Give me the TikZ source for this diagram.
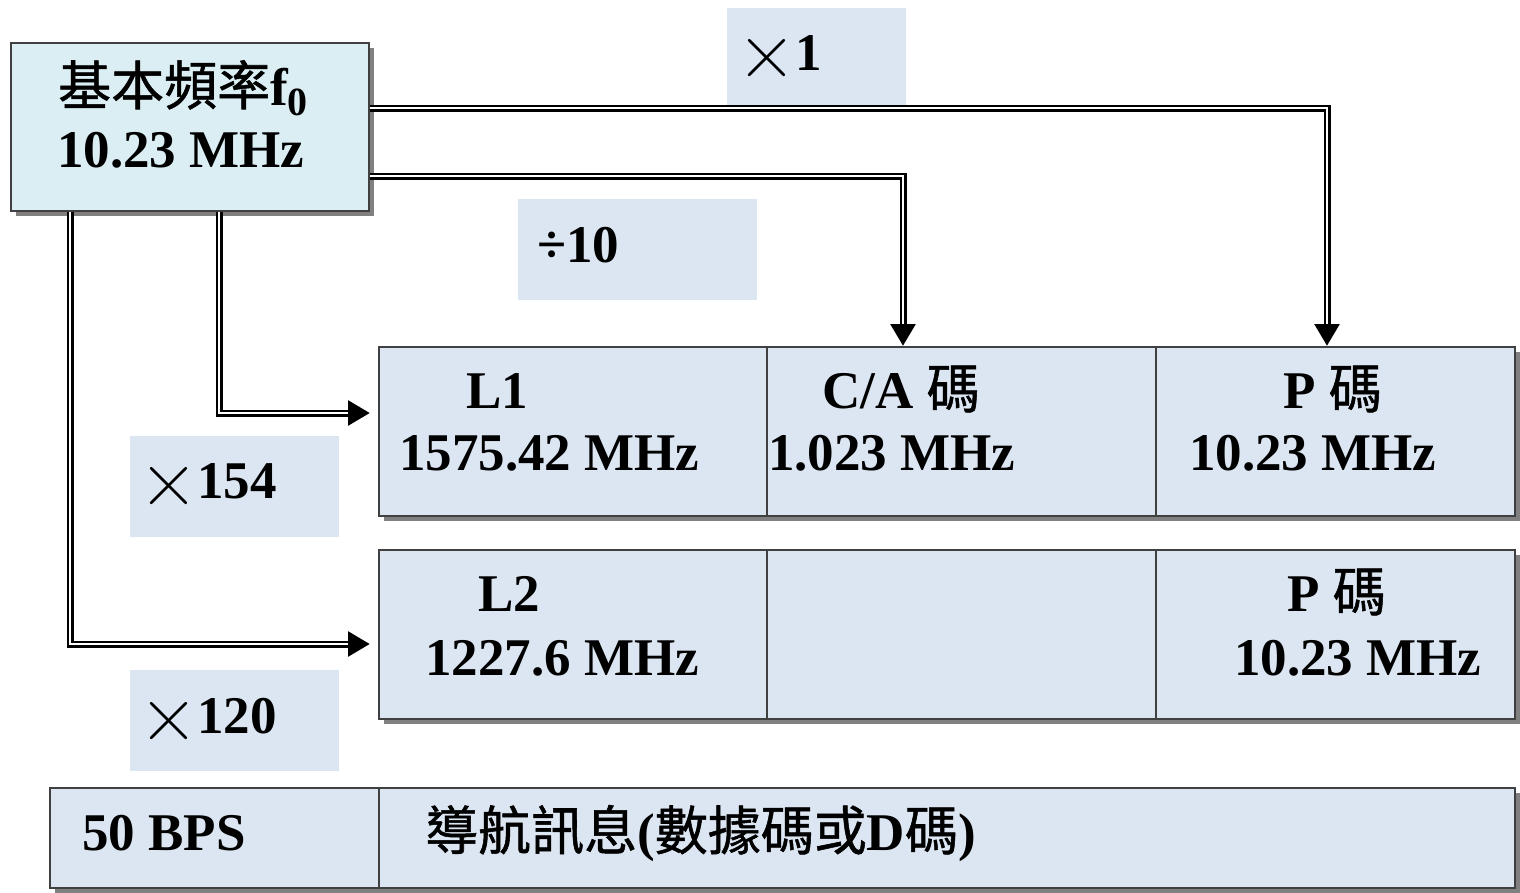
\documentclass[tikz,border=0pt]{standalone}
\usepackage{fontspec}
\setmainfont{Liberation Serif}
\newfontfamily\cjk{Noto Sans CJK TC}[FakeBold=1]
\newfontfamily\lmr{Latin Modern Roman}
\usetikzlibrary{shadows,arrows.meta}
\definecolor{boxblue}{HTML}{DCE6F2}
\definecolor{topblue}{HTML}{DAEEF3}
\definecolor{edgec}{HTML}{404040}
\definecolor{shadowc}{HTML}{808080}
\newcommand{\timesx}{{\lmr\fontsize{82}{82}\selectfont\mdseries\raisebox{-8pt}{×}}\kern-1pt}
\newcommand{\ck}[1]{{\cjk\mdseries #1}}
\begin{document}
\begin{tikzpicture}[x=1pt,y=-1pt,
  cell/.style={draw=edgec, line width=2pt, fill=boxblue, anchor=north west, inner sep=0pt,
    drop shadow={shadow xshift=5pt, shadow yshift=-5pt, opacity=1, fill=shadowc}},
  topcell/.style={cell, fill=topblue},
  lbl/.style={fill=boxblue, anchor=north west, inner sep=0pt},
  txt/.style={anchor=base west, inner sep=0pt, font=\fontsize{53}{60}\selectfont\bfseries},
  outerc/.style={line width=7pt, black, line join=miter, -{Triangle[length=22pt,width=24pt]}},
  innerc/.style={line width=2.8pt, white, line join=miter},
]
\useasboundingbox (0,0) rectangle (1520,892);

% label boxes
\node[lbl, minimum width=179pt, minimum height=100pt] (lx1) at (727,8) {};
\node[lbl, minimum width=239pt, minimum height=101pt] (ldiv) at (518,199) {};
\node[lbl, minimum width=209pt, minimum height=101pt] (l154) at (130,436) {};
\node[lbl, minimum width=209pt, minimum height=101pt] (l120) at (130,670) {};

% main boxes
\node[topcell, minimum width=358pt, minimum height=168pt] (f0) at (10,42) {};
\node[cell, minimum width=388pt, minimum height=169pt] (L1) at (378,346) {};
\node[cell, minimum width=389pt, minimum height=169pt] (CA) at (766,346) {};
\node[cell, minimum width=359pt, minimum height=169pt] (P1) at (1155,346) {};
\node[cell, minimum width=388pt, minimum height=169pt] (L2) at (378,549) {};
\node[cell, minimum width=389pt, minimum height=169pt] (E2) at (766,549) {};
\node[cell, minimum width=359pt, minimum height=169pt] (P2) at (1155,549) {};
\node[cell, minimum width=329pt, minimum height=100pt] (bps) at (49,787) {};
\node[cell, minimum width=1136pt, minimum height=100pt] (nav) at (378,787) {};

% connectors (double lines)
\draw[outerc] (f0.east |- 0,108) -| (P1.north -| 1327,0);
\draw[innerc, shorten >=22pt] (f0.east |- 0,108) -| (P1.north -| 1327,0);
\draw[outerc] (f0.east |- 0,176) -| (CA.north -| 903,0);
\draw[innerc, shorten >=22pt] (f0.east |- 0,176) -| (CA.north -| 903,0);
\draw[outerc, shorten >=8pt] (f0.south -| 219,0) |- (L1.west |- 0,413);
\draw[innerc, shorten >=30pt] (f0.south -| 219,0) |- (L1.west |- 0,413);
\draw[outerc, shorten >=8pt] (f0.south -| 70,0) |- (L2.west |- 0,644);
\draw[innerc, shorten >=30pt] (f0.south -| 70,0) |- (L2.west |- 0,644);

% texts
\node[txt] (t1) at (58,105) {\ck{基本頻率}f\raisebox{-10pt}{\fontsize{40}{40}\selectfont 0}};
\node[txt] (t2) at (57,167) {10.23 MHz};
\node[txt] (tx1) at (737,70) {\timesx 1};
\node[txt] (tdiv) at (537,262) {÷10};
\node[txt] (tx154) at (139,498) {\timesx 154};
\node[txt] (tx120) at (139,733) {\timesx 120};
\node[txt] (tL1) at (466,408) {L1};
\node[txt] (tL1f) at (399,470) {1575.42 MHz};
\node[txt] (tCA) at (822,408) {C/A \ck{碼}};
\node[txt] (tCAf) at (768,470) {1.023 MHz};
\node[txt] (tP1) at (1283,408) {P \ck{碼}};
\node[txt] (tP1f) at (1189,470) {10.23 MHz};
\node[txt] (tL2) at (478,611) {L2};
\node[txt] (tL2f) at (425,675) {1227.6 MHz};
\node[txt] (tP2) at (1287,611) {P \ck{碼}};
\node[txt] (tP2f) at (1234,675) {10.23 MHz};
\node[txt] (tbps) at (82,850) {50 BPS};
\node[txt] (tnav) at (425,850) {\ck{導航訊息}(\ck{數據碼或}D\ck{碼})};
\end{tikzpicture}
\end{document}
